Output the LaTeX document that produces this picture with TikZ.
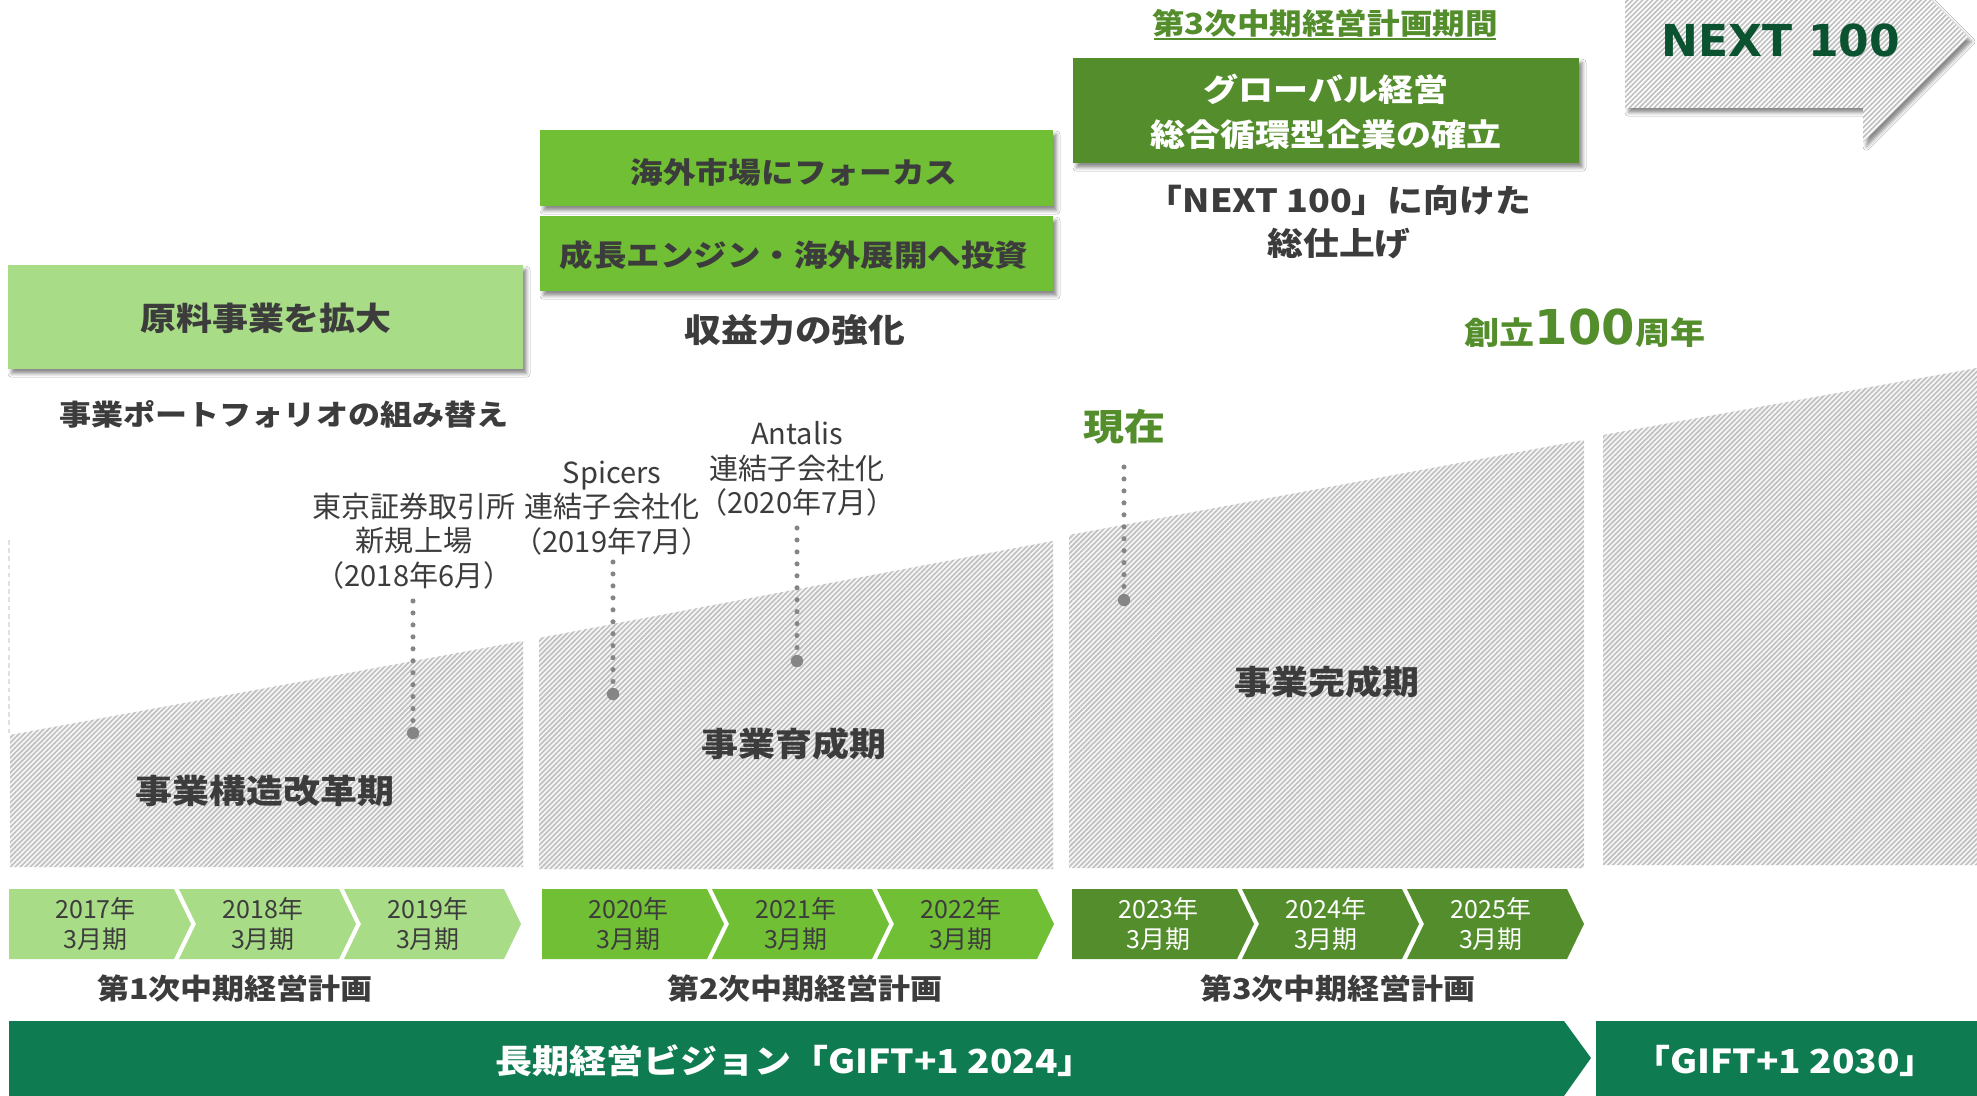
\documentclass[tikz,border=0pt]{standalone}
\usepackage{fontspec}
\setmainfont{Noto Sans CJK JP}[BoldFeatures={FakeStretch=1.12}]
\newfontfamily\verd{DejaVu Sans}
\usetikzlibrary{patterns.meta,shadows.blur}
\definecolor{gone}{HTML}{A9DC86}
\definecolor{gtwo}{HTML}{70BF35}
\definecolor{gthree}{HTML}{548E2C}
\definecolor{vision}{HTML}{0F7B50}
\definecolor{nextg}{HTML}{0A5230}
\definecolor{tgray}{HTML}{3C3C3C}
\definecolor{dgray}{HTML}{858585}
\definecolor{hatchc}{HTML}{C0C0C0}
\newcommand\fs[2]{\fontsize{#1pt}{#2pt}\selectfont}
\begin{document}
\begin{tikzpicture}[x=0.03cm,y=-0.03cm,
  txt/.style={inner sep=0pt, align=center, text=tgray},
  shadowed/.style={blur shadow={shadow xshift=3pt, shadow yshift=-4pt, shadow blur radius=3pt, shadow opacity=45}},
  hatched/.style={fill=black!3, postaction={pattern={Lines[angle=45,distance=3pt,line width=1.4pt]}, pattern color=hatchc}},
  dotline/.style={dgray, line width=4.3pt, line cap=round, dash pattern=on 0pt off 10.2pt},
  enddot/.style={circle, fill=dgray, inner sep=0pt, minimum size=10.5pt},
  yeartext/.style={txt, font={\fs{21.3}{24.8}}},
  evtext/.style={txt, font={\fs{24.8}{29.4}}},
]
\useasboundingbox[fill=white] (0,0) rectangle (1977,1096);

% ---- hatched period areas
\path[hatched] (10,867) -- (10,735) -- (523,641) -- (523,867) -- cycle;
\path[hatched] (539,869) -- (539,638) -- (1053,541) -- (1053,869) -- cycle;
\path[hatched] (1069,868) -- (1069,535) -- (1584,440) -- (1584,868) -- cycle;
\path[hatched] (1603,865) -- (1603,435) -- (1977,368) -- (1977,865) -- cycle;
\draw[black!12, line width=0.9pt, dash pattern=on 4pt off 3pt] (9,540) -- (9,733);

% ---- period labels
\node[txt, font={\bfseries\fs{28.2}{32}}] (p1) at (265,791) {事業構造改革期};
\node[txt, font={\bfseries\fs{28.2}{32}}] (p2) at (794,744) {事業育成期};
\node[txt, font={\bfseries\fs{28.2}{32}}] (p3) at (1327,682) {事業完成期};

% ---- left box
\path[fill=gone, shadowed] (8,265) rectangle (523,369);
\node[txt, font={\bfseries\fs{27.4}{32}}] (lboxt) at (266,318) {原料事業を拡大};
\node[txt, font={\bfseries\fs{24.4}{28}}] (port) at (284,414) {事業ポートフォリオの組み替え};

% ---- middle boxes
\path[fill=gtwo, shadowed] (540,130) rectangle (1053,206);
\node[txt, font={\bfseries\fs{24.9}{28}}] (mb1) at (794,172) {海外市場にフォーカス};
\path[fill=gtwo, shadowed] (540,216) rectangle (1053,291);
\node[txt, font={\bfseries\fs{25.5}{28}}] (mb2) at (794,255) {成長エンジン・海外展開へ投資};
\node[txt, font={\bfseries\fs{28}{32}}] (earn) at (795,330) {収益力の強化};

% ---- right top
\node[txt, text=gthree, font={\bfseries\fs{24.8}{28}}] (t3) at (1325,23) {第3次中期経営計画期間};
\draw[gthree, line width=1.8pt] (1154,39) -- (1496,39);
\path[fill=gthree, shadowed] (1073,58) rectangle (1579,163);
\node[txt, text=white, font={\bfseries\fs{26.7}{38.4}}] (gbox) at (1326,112) {グローバル経営\\総合循環型企業の確立};
\node[txt, font={\bfseries\fs{27.3}{36.7}}] (fin) at (1339,222) {「NEXT 100」に向けた\\総仕上げ};

% ---- NEXT 100 arrow
\path[fill=white, shadowed, postaction={pattern={Lines[angle=45,distance=3pt,line width=1.4pt]}, pattern color=hatchc}]
  (1625,-20) -- (1911,-20) -- (1968,37) -- (1863,142) -- (1863,108) -- (1625,108) -- cycle;
\node[inner sep=0pt, text=nextg, font={\verd\bfseries\fs{37.6}{40}}] (next) at (1781,40) {NEXT 100};

\node[anchor=base, inner sep=0pt, text=gthree, font={\bfseries\fs{26.7}{30}}] (c100) at (1585,344) {創立{\verd\fs{41}{44}100}周年};

% ---- events
\node[evtext] (ev1) at (414,541) {東京証券取引所\\新規上場\\（2018年6月）};
\node[evtext] (ev2) at (612,508) {Spicers\\連結子会社化\\（2019年7月）};
\node[evtext] (ev3) at (797,469) {Antalis\\連結子会社化\\（2020年7月）};
\node[txt, text=gthree, font={\bfseries\fs{31.2}{34}}] (now) at (1124,427) {現在};

\coordinate (e1top) at (413,601);
\coordinate (e2top) at (613,562);
\coordinate (e3top) at (797,528);
\coordinate (e4top) at (1124,467);
\node[enddot] (e1dot) at (413,733) {};
\node[enddot] (e2dot) at (613,694) {};
\node[enddot] (e3dot) at (797,661) {};
\node[enddot] (e4dot) at (1124,600) {};
\draw[dotline] (e1top) -- (e1dot.center);
\draw[dotline] (e2top) -- (e2dot.center);
\draw[dotline] (e3top) -- (e3dot.center);
\draw[dotline] (e4top) -- (e4dot.center);

% ---- year chevrons
\foreach \L/\R/\n/\yr in {9/174/0/2017,179/339/1/2018,344/504/1/2019}{
  \pgfmathsetmacro\nx{\L+17*\n}
  \path[fill=gone] (\L,889) -- (\R,889) -- ({\R+17},924) -- (\R,959) -- (\L,959) -- (\nx,924) -- cycle;
  \node[yeartext] (y\yr) at ({(\L+\R)/2+4},924) {\yr 年\\3月期};
}
\foreach \L/\R/\n/\yr in {542/707/0/2020,712/872/1/2021,877/1037/1/2022}{
  \pgfmathsetmacro\nx{\L+17*\n}
  \path[fill=gtwo] (\L,889) -- (\R,889) -- ({\R+17},924) -- (\R,959) -- (\L,959) -- (\nx,924) -- cycle;
  \node[yeartext] (y\yr) at ({(\L+\R)/2+4},924) {\yr 年\\3月期};
}
\foreach \L/\R/\n/\yr in {1072/1237/0/2023,1242/1402/1/2024,1407/1567/1/2025}{
  \pgfmathsetmacro\nx{\L+17*\n}
  \path[fill=gthree] (\L,889) -- (\R,889) -- ({\R+17},924) -- (\R,959) -- (\L,959) -- (\nx,924) -- cycle;
  \node[yeartext, text=white] (y\yr) at ({(\L+\R)/2+4},924) {\yr 年\\3月期};
}

% ---- plan labels
\node[txt, font={\bfseries\fs{24.4}{28}}] (plan1) at (235,989) {第1次中期経営計画};
\node[txt, font={\bfseries\fs{24.4}{28}}] (plan2) at (805,989) {第2次中期経営計画};
\node[txt, font={\bfseries\fs{24.4}{28}}] (plan3) at (1338,989) {第3次中期経営計画};

% ---- vision bars
\path[fill=vision] (9,1021) -- (1564,1021) -- (1591,1058) -- (1564,1096) -- (9,1096) -- cycle;
\node[txt, text=white, font={\bfseries\fs{28.2}{32}}] (vis1) at (795,1061) {長期経営ビジョン「GIFT+1 2024」};
\path[fill=vision] (1596,1021) rectangle (1977,1096);
\node[txt, text=white, font={\bfseries\fs{28.2}{32}}] (vis2) at (1785,1061) {「GIFT+1 2030」};
\end{tikzpicture}
\end{document}
